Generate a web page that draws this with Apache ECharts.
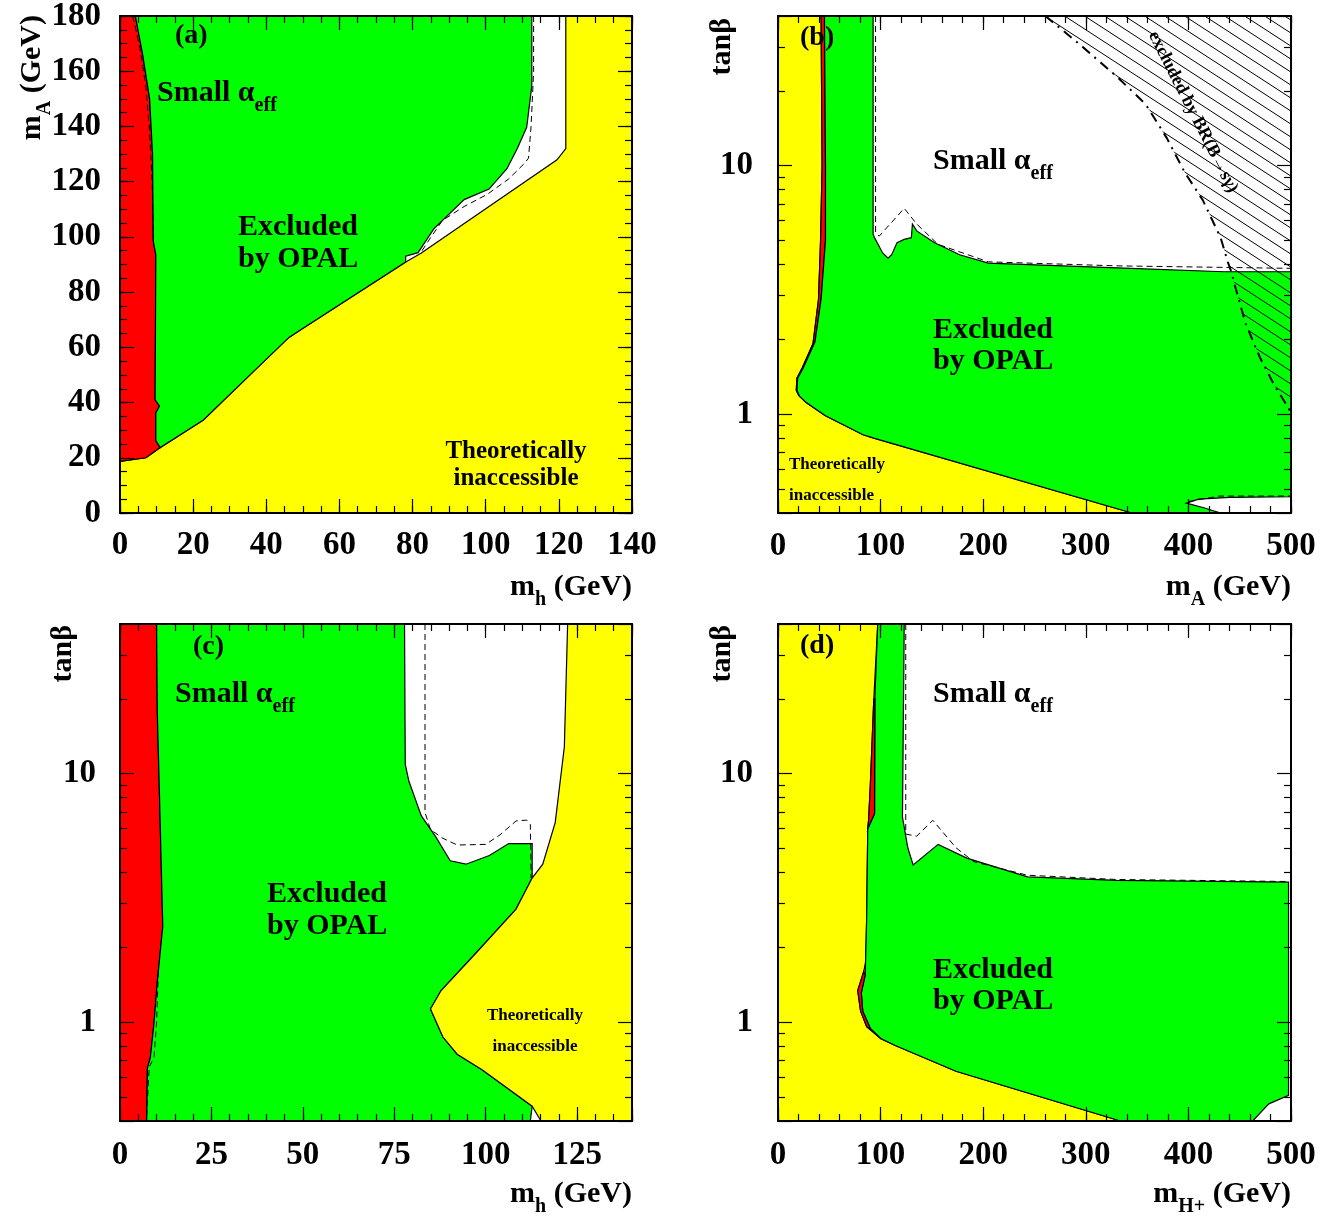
<!DOCTYPE html>
<html><head><meta charset="utf-8">
<script src="https://cdn.jsdelivr.net/npm/echarts@6/dist/echarts.min.js"></script>
<style>html,body{margin:0;padding:0;background:#fff}#c{width:1336px;height:1216px}</style>
</head><body><div id="c"></div><script>
// ---------- DATA ----------
// tanβ tick values (log axes)
const logMajor = [1, 10];
const logMinor = [0.5, 0.6, 0.7, 0.8, 0.9, 2, 3, 4, 5, 6, 7, 8, 9, 20, 30];

// Panel (a): m_h (x) vs m_A (y)
const aYellow = [[0,0],[0,18.7],[7.1,20],[11,23.7],[22.8,33.7],[36.4,51.1],[46.2,63.6],[49.1,66.1],[78.4,91.1],[82.4,94.2],[119.5,127.9],[121.9,132],[121.9,180],[140,180],[140,0]];
const aRed = [[0,18.7],[0,180],[4.2,180],[6.2,166],[8.1,150],[8.9,130],[9.1,98.5],[9.8,93.5],[9.6,41],[10.8,38.7],[9.8,36.2],[9.8,26.2],[11,23.7],[7.1,20]];
const aGreen = [[4.2,180],[6.2,166],[8.1,150],[8.9,130],[9.1,98.5],[9.8,93.5],[9.6,41],[10.8,38.7],[9.8,36.2],[9.8,26.2],[11,23.7],[22.8,33.7],[36.4,51.1],[46.2,63.6],[49.1,66.1],[78.1,90.9],[78.1,93.0],[81.5,94.3],[85.8,102.9],[94.1,113.5],[100.9,117.3],[105.8,124.7],[108.7,132.2],[111.2,139.7],[112.6,154.7],[112.6,180]];
const aDashL = [[3.5,180],[5.5,168],[7,155],[8,140],[8.8,120],[9.1,100]];
const aDashR = [[113.1,180],[113.1,160],[112.4,140],[111.7,128.5],[110.5,126.5],[106.3,121],[100.4,115.4],[94.1,111],[88.2,106],[84.3,98.5],[82.4,94.6]];

// Panel (b): m_A (x) vs tanβ (y)
const bYellow = [[0,0.4],[0,40],[42,40],[42.5,20],[43,10],[41.5,5],[39.5,2.9],[34.1,1.92],[23.7,1.535],[18.5,1.396],[17.8,1.249],[20.2,1.19],[27.2,1.117],[46.3,0.984],[82.9,0.826],[93.4,0.8],[345,0.4]];
const bRed = [[42,40],[42.5,20],[43,10],[41.5,5],[39.5,2.9],[34.1,1.92],[23.7,1.535],[18.5,1.396],[17.8,1.249],[20.2,1.19],[27.2,1.117],[46.3,0.984],[28,1.11],[21,1.18],[18.5,1.249],[19.2,1.396],[24.5,1.53],[36,1.95],[42,2.9],[46.3,5],[46.3,10],[45.8,20],[45.3,40]];
const bGreen = [[45.3,40],[45.8,20],[46.3,10],[46.3,5],[42,2.9],[36,1.95],[24.5,1.53],[19.2,1.396],[18.5,1.249],[21,1.18],[28,1.11],[46.3,0.984],[82.9,0.826],[93.4,0.8],[345,0.4],[431,0.4],[415,0.42],[398,0.438],[410,0.455],[440,0.462],[500,0.465],[500,3.74],[434.8,3.74],[330.3,3.88],[204.9,4.05],[177,4.38],[152.6,4.89],[135.2,5.46],[131,5.82],[130,5.13],[123,5.05],[116,4.89],[110.8,4.38],[107.3,4.24],[102,4.45],[94,5.13],[92.7,5.3],[92.7,40]];
const bHatch = [[260.6,40],[500,40],[500,1.016],[494,1.117],[483.6,1.31],[469.7,1.69],[455.7,2.32],[445.3,3.29],[441.8,3.74],[438.3,4.11],[431.4,5.13],[413.9,7.28],[396.5,9.38],[379,12.9],[358.2,17.7],[330.3,22.8],[295.5,30.4]];
const bDashDot = [[260.6,40],[295.5,30.4],[330.3,22.8],[358.2,17.7],[379,12.9],[396.5,9.38],[413.9,7.28],[431.4,5.13],[438.3,4.11],[441.8,3.74],[445.3,3.29],[455.7,2.32],[469.7,1.69],[483.6,1.31],[494,1.117],[500,1.016]];
const bDash = [[95.1,40],[95.1,5.4],[98.6,5.2],[123,6.73],[135.2,5.82],[156,4.82],[205,4.1],[330,3.95],[500,3.86]];
const bDash2 = [[400,0.445],[430,0.468],[500,0.468]];

// Panel (c): m_h (x) vs tanβ (y)
const cRed = [[0,0.4],[0,40],[10,40],[10.2,17.7],[10.7,9.31],[11.7,2.43],[10.2,1.45],[9.3,0.99],[8.3,0.719],[7.5,0.653],[7.3,0.4]];
const cGreen = [[10,40],[10.2,17.7],[10.7,9.31],[11.7,2.43],[10.2,1.45],[9.3,0.99],[8.3,0.719],[7.5,0.653],[7.3,0.4],[112.2,0.4],[112.7,0.459],[99,0.643],[92.2,0.743],[88.3,0.871],[84.9,1.13],[87.8,1.34],[97.1,1.88],[108.3,2.85],[112.7,3.8],[112.7,5.23],[106.3,5.23],[101,4.68],[94.6,4.32],[90.3,4.46],[86.3,5.58],[82.4,6.76],[79,9.31],[78,10.9],[77.8,40]];
const cYellow = [[122.4,40],[140,40],[140,0.4],[115.1,0.4],[112.7,0.459],[99,0.643],[92.2,0.743],[88.3,0.871],[84.9,1.13],[87.8,1.34],[97.1,1.88],[108.3,2.85],[112.7,3.8],[115.6,4.32],[119,6.35],[121.5,12.8]];
const cDashL = [[10.5,1.6],[10,1.0],[9.3,0.72],[8.0,0.66],[7.2,0.4]];
const cDash = [[83.4,40],[83.4,6.98],[84.9,5.95],[88.3,5.49],[92.2,5.16],[100,5.19],[103.9,5.67],[108.3,6.45],[111.2,6.5],[112.2,6.24],[112.4,3.8]];

// Panel (d): m_H+ (x) vs tanβ (y)
const dYellow = [[0,0.4],[0,40],[97.2,40],[93.4,20],[90,9],[88.3,6.5],[87.5,6.0],[86.4,2.58],[85.5,1.75],[83.6,1.6],[77.7,1.34],[80.5,1.107],[86.4,0.96],[100.3,0.858],[114.3,0.805],[173.5,0.634],[333.8,0.4]];
const dRed1 = [[93.4,20],[94.4,20],[94.1,6.91],[87.5,6.0],[88.3,6.5],[90,9]];
const dRed2 = [[83.6,1.6],[77.7,1.34],[80.5,1.107],[86.4,0.96],[100.3,0.858],[89.9,0.944],[82.6,1.107],[81.2,1.31],[85,1.55]];
const dGreen = [[97.2,40],[123,40],[121.3,6.69],[126.5,5.03],[131.7,4.29],[156.1,5.19],[184,4.57],[243.2,3.84],[330.3,3.72],[497.6,3.66],[497.6,0.507],[478.4,0.469],[462.7,0.4],[333.8,0.4],[173.5,0.634],[114.3,0.805],[100.3,0.858],[89.9,0.944],[82.6,1.107],[81.2,1.31],[85,1.55],[86.4,2.58],[87.5,6.0],[94.1,6.91],[94.4,20]];
const dDash = [[124.5,40],[124.5,5.71],[135.2,5.6],[150.9,6.49],[173.5,5.03],[191,4.42],[243,3.9],[330,3.75],[497.6,3.68]];

// ---------- STYLE / LAYOUT ----------
const FF = 'Liberation Serif';
const YEL = '#ffff00', GRN = '#00ff00', RED = '#ff0000';
const grids = [
  {left:120, top:16, width:512, height:497},
  {left:778, top:16, width:513, height:497},
  {left:120, top:624, width:512, height:497},
  {left:778, top:624, width:513, height:497}
];
const xSpec = [
  {min:0,max:140,major:20,minor:5,margin:16},
  {min:0,max:500,major:100,minor:20,margin:17},
  {min:0,max:140,major:25,minor:5,margin:18},
  {min:0,max:500,major:100,minor:20,margin:18}
];
const ySpec = [
  {log:false,min:0,max:180,major:20,minor:5,margin:19},
  {log:true,margin:25},
  {log:true,margin:24},
  {log:true,margin:25}
];
const labelBase = {color:'#000', fontFamily:FF, fontWeight:'bold', fontSize:33};

function valAxis(gi, pos, s, isMajor, showLabel){
  return {type:'value', gridIndex:gi, position:pos, min:s.min, max:s.max,
    interval: isMajor ? s.major : s.minor, z:20,
    axisLine:{show:isMajor, onZero:false, lineStyle:{color:'#000', width:2}},
    axisTick:{show:true, inside:true, length:isMajor?14:7, lineStyle:{color:'#000', width:1.2}},
    axisLabel:Object.assign({show:showLabel, margin:s.margin,
      formatter: v => (v % s.major === 0 ? String(v) : '')}, labelBase),
    splitLine:{show:false}};
}
function logAxis(gi, pos, s, isMajor, showLabel){
  const ax = {type:'log', logBase:10, gridIndex:gi, position:pos, min:0.4, max:40, z:20,
    axisLine:{show:isMajor, onZero:false, lineStyle:{color:'#000', width:2}},
    axisTick:{show:true, inside:true, length:isMajor?14:7, lineStyle:{color:'#000', width:1.2}},
    axisLabel:Object.assign({show:showLabel, margin:s.margin,
      formatter: v => (Math.abs(v-1)<1e-6 || Math.abs(v-10)<1e-6) ? String(Math.round(v)) : ''}, labelBase),
    splitLine:{show:false}};
  if (!isMajor) ax.axisTick.customValues = logMinor;
  return ax;
}
const xAxes = [], yAxes = [];
grids.forEach((g, gi) => {
  const xs = xSpec[gi];
  xAxes.push(valAxis(gi,'bottom',xs,true,true), valAxis(gi,'bottom',xs,false,false),
             valAxis(gi,'top',xs,true,false), valAxis(gi,'top',xs,false,false));
  const ys = ySpec[gi];
  const f = ys.log ? logAxis : valAxis;
  yAxes.push(f(gi,'left',ys,true,true), f(gi,'left',ys,false,false),
             f(gi,'right',ys,true,false), f(gi,'right',ys,false,false));
});

function hatchCanvas(){
  const w = 20, h = 13;
  const cv = document.createElement('canvas'); cv.width = w; cv.height = h;
  const ctx = cv.getContext('2d');
  ctx.strokeStyle = '#000'; ctx.lineWidth = 1;
  for (const o of [-w, 0, w]) { ctx.beginPath(); ctx.moveTo(o - w, -h); ctx.lineTo(o + 2*w, 2*h); ctx.stroke(); }
  return cv;
}
const HATCH = {image: hatchCanvas(), repeat:'repeat'};

function poly(gi, pts, fill, stroke){
  return {type:'custom', coordinateSystem:'cartesian2d', xAxisIndex:4*gi, yAxisIndex:4*gi,
    silent:true, animation:false, z:2, data:pts, encode:{x:0, y:1},
    renderItem:(params, api) => params.dataIndex !== 0 ? null : {
      type:'polygon', shape:{points: pts.map(p => api.coord(p))},
      style:{fill: fill, stroke: stroke === false ? null : '#000', lineWidth:1.2}}};
}
function line(gi, pts, dash, width){
  return {type:'line', xAxisIndex:4*gi, yAxisIndex:4*gi, data:pts, symbol:'none', showSymbol:false,
    silent:true, animation:false, z:5, lineStyle:{color:'#000', width:width||1, type:dash}};
}
const DASH = [6,4];
const series = [
  poly(0,aYellow,YEL), poly(0,aRed,RED), poly(0,aGreen,GRN),
  line(0,aDashL,DASH), line(0,aDashR,DASH),
  poly(1,bYellow,YEL), poly(1,bRed,RED), poly(1,bGreen,GRN), poly(1,bHatch,HATCH,false),
  line(1,bDash,DASH), line(1,bDash2,DASH), line(1,bDashDot,[10,6,2,6],2),
  poly(2,cRed,RED), poly(2,cGreen,GRN), poly(2,cYellow,YEL),
  line(2,cDashL,DASH), line(2,cDash,DASH),
  poly(3,dYellow,YEL), poly(3,dGreen,GRN), poly(3,dRed1,RED), poly(3,dRed2,RED),
  line(3,dDash,DASH)
];

// ---------- TEXT ----------
const rich = {
  m:{fontFamily:FF, fontWeight:'bold', fontSize:30, lineHeight:30, verticalAlign:'top', fill:'#000'},
  s:{fontFamily:FF, fontWeight:'bold', fontSize:20, lineHeight:20, verticalAlign:'top', padding:[18,0,0,0], fill:'#000'}
};
function txt(text, x, y, size, align, extra){
  return Object.assign({type:'text', x:x, y:y, z:50, silent:true, style:{text:text, fill:'#000',
    font:'bold ' + size + 'px "' + FF + '"', align:align||'left', textAlign:align||'left',
    verticalAlign:'middle', textVerticalAlign:'middle'}}, extra||{});
}
function rtxt(text, x, y, align, rot){
  const e = txt(text, x, y, 30, align);
  e.style.rich = rich;
  if (rot) e.rotation = rot;
  return e;
}
const R90 = Math.PI/2;
const graphics = [
  // panel (a)
  txt('(a)',175,36,28), rtxt('{m|Small α}{s|eff}',157,93,'left'),
  txt('Excluded',238,227,30), txt('by OPAL',238,259,30),
  txt('Theoretically',516,452,25,'center'), txt('inaccessible',516,479,25,'center'),
  rtxt('{m|m}{s|h}{m| (GeV)}',632,587,'right'), rtxt('{m|m}{s|A}{m| (GeV)}',32,15,'right',R90),
  // panel (b)
  txt('(b)',800,38,28), rtxt('{m|Small α}{s|eff}',933,161,'left'),
  txt('Excluded',933,330,30), txt('by OPAL',933,361,30),
  txt('Theoretically',789,465,17), txt('inaccessible',789,496,17),
  txt('excluded by BR(B→sγ)',1193,112,18,'center',{rotation:-1.1}),
  rtxt('{m|m}{s|A}{m| (GeV)}',1291,587,'right'), txt('tanβ',722,18,30,'right',{rotation:R90}),
  // panel (c)
  txt('(c)',193,647,28), rtxt('{m|Small α}{s|eff}',175,694,'left'),
  txt('Excluded',267,894,30), txt('by OPAL',267,926,30),
  txt('Theoretically',535,1016,17,'center'), txt('inaccessible',535,1047,17,'center'),
  rtxt('{m|m}{s|h}{m| (GeV)}',632,1194,'right'), txt('tanβ',63,625,30,'right',{rotation:R90}),
  // panel (d)
  txt('(d)',800,646,28), rtxt('{m|Small α}{s|eff}',933,694,'left'),
  txt('Excluded',933,970,30), txt('by OPAL',933,1001,30),
  rtxt('{m|m}{s|H+}{m| (GeV)}',1291,1194,'right'), txt('tanβ',722,625,30,'right',{rotation:R90})
];

const chart = echarts.init(document.getElementById('c'), null, {renderer:'canvas'});
chart.setOption({
  animation:false,
  backgroundColor:'#fff',
  grid: grids.map(g => Object.assign({containLabel:false, outerBoundsMode:'none'}, g)),
  xAxis: xAxes, yAxis: yAxes, series: series, graphic: graphics
});
</script></body></html>
